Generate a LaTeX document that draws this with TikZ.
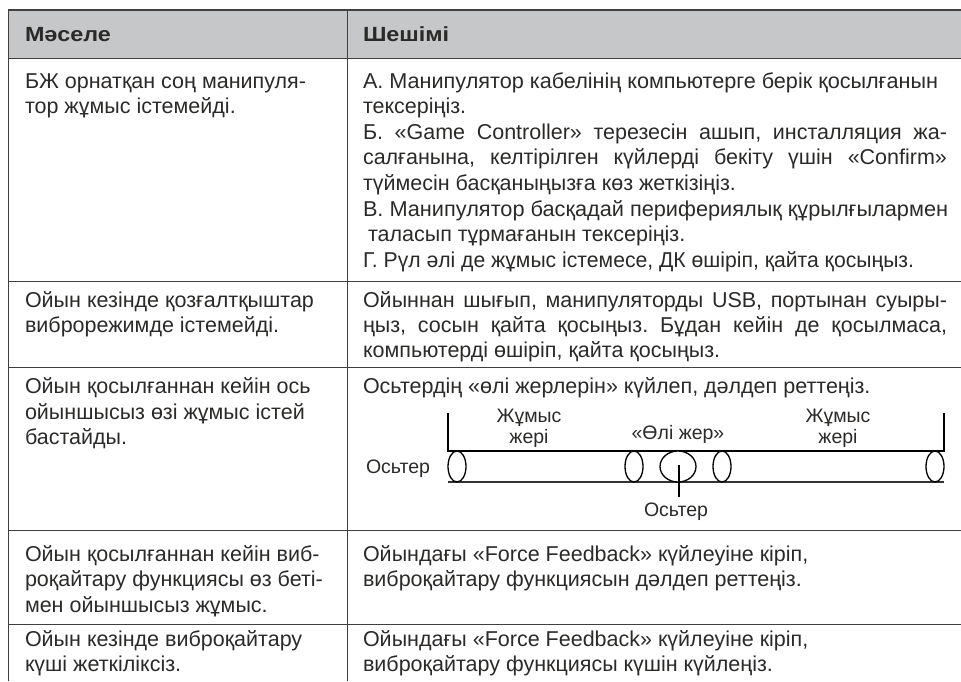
\documentclass[tikz,border=0pt]{standalone}
\usepackage{fontspec}
\usepackage{graphicx}
\setmainfont{Liberation Sans}
\newfontfamily\hdfont[FakeStretch=1.14]{Liberation Sans}
\definecolor{ink}{HTML}{2B2A29}
\definecolor{hdr}{HTML}{C6C7C9}
\frenchspacing
\tikzset{x=1pt,y=-1pt,
 txt/.style={anchor=base west,inner sep=0pt,outer sep=0pt,text=ink,font=\fontsize{21.5}{25}\selectfont},
 head/.style={txt,font=\hdfont\fontsize{20.5}{25}\selectfont\bfseries},
 dia/.style={anchor=base,inner sep=0pt,text=ink,font=\fontsize{19.5}{24}\selectfont},
 rule/.style={draw=ink!90,line width=1pt},
 gap/.style={draw=black,line width=1.3pt,fill=white}}
\newcommand{\J}[1]{\hbox to 584pt{#1}}
\newcommand{\W}[2]{\resizebox{#1pt}{\height}{#2}}
\begin{document}
\begin{tikzpicture}
\useasboundingbox (0,0) rectangle (961,681);
\fill[hdr] (8,10) rectangle (961,58);
\draw[rule,line width=1.5pt] (8,10) -- (961,10);
\draw[rule] (8,58) -- (961,58);
\draw[rule] (8,10) -- (8,681);
\draw[rule] (347,10) -- (347,681);
\foreach \y in {281,367,530,624} \draw[rule] (8,\y) -- (961,\y);
\node[head] (h1) at (25,41) {Мәселе};
\node[head] (h2) at (363,41) {Шешімі};
\node[txt] (l1) at (25,88) {БЖ орнатқан соң манипуля-};
\node[txt] (l2) at (25,113.5) {тор жұмыс істемейді.};
\node[txt] (l3) at (25,307) {Ойын кезінде қозғалтқыштар};
\node[txt] (l4) at (25,332) {виброрежимде істемейді.};
\node[txt] (l5) at (25,393.5) {Ойын қосылғаннан кейін ось};
\node[txt] (l6) at (25,419) {ойыншысыз өзі жұмыс істей};
\node[txt] (l7) at (25,444.5) {бастайды.};
\node[txt] (l8) at (25,561) {Ойын қосылғаннан кейін виб-};
\node[txt] (l9) at (25,586.5) {роқайтару функциясы өз беті-};
\node[txt] (l10) at (25,612) {мен ойыншысыз жұмыс.};
\node[txt] (l11) at (25,646) {Ойын кезінде виброқайтару};
\node[txt] (l12) at (25,671) {күші жеткіліксіз.};
\node[txt] (r1) at (363,88) {\W{575}{А. Манипулятор кабелінің компьютерге берік қосылғанын}};
\node[txt] (r2) at (363,113.5) {тексеріңіз.};
\node[txt] (r3) at (363,139) {\J{Б. «Game Controller» терезесін ашып, инсталляция жа-}};
\node[txt] (r4) at (363,164.5) {\J{салғанына, келтірілген күйлерді бекіту үшін «Confirm»}};
\node[txt] (r5) at (363,190) {түймесін басқаныңызға көз жеткізіңіз.};
\node[txt] (r6) at (363,216) {\W{585}{В. Манипулятор басқадай перифериялық құрылғылармен}};
\node[txt] (r7) at (368,241.5) {таласып тұрмағанын тексеріңіз.};
\node[txt] (r8) at (363,267) {\W{551}{Г. Рүл әлі де жұмыс істемесе, ДК өшіріп, қайта қосыңыз.}};
\node[txt] (r9) at (363,307) {\J{Ойыннан шығып, манипуляторды USB, портынан суыры-}};
\node[txt] (r10) at (363,332) {\J{ңыз, сосын қайта қосыңыз. Бұдан кейін де қосылмаса,}};
\node[txt] (r11) at (363,357) {компьютерді өшіріп, қайта қосыңыз.};
\node[txt] (r12) at (363,393.5) {Осьтердің «өлі жерлерін» күйлеп, дәлдеп реттеңіз.};
\node[txt] (r13) at (363,561) {Ойындағы «Force Feedback» күйлеуіне кіріп,};
\node[txt] (r14) at (363,586.5) {виброқайтару функциясын дәлдеп реттеңіз.};
\node[txt] (r15) at (363,646) {Ойындағы «Force Feedback» күйлеуіне кіріп,};
\node[txt] (r16) at (363,671) {виброқайтару функциясы күшін күйлеңіз.};
% dead-zone diagram
\coordinate (tl) at (448,451); \coordinate (tr) at (944,451);
\coordinate (bl) at (448,482); \coordinate (br) at (944,482);
\coordinate (ta) at (448,413); \coordinate (tb) at (944,413);
\draw[black,line width=1.5pt] (ta) -- (tl) -- (tr) -- (tb);
\draw[black!80,line width=1.2pt] (bl) -- (br);
\foreach \x/\n in {457/a,634/b,722/c,935/d} \draw[gap] (\x,466.5) ellipse (9 and 15.5);
\draw[gap] (678,466.5) ellipse (18 and 15.5);
\coordinate (pa) at (679,465); \coordinate (pb) at (679,497);
\draw[black,line width=1.3pt] (pa) -- (pb);
\node[dia] (d1) at (529,422) {Жұмыс};
\node[dia] (d2) at (529,443) {жері};
\node[dia] (d3) at (838,422) {Жұмыс};
\node[dia] (d4) at (838,443) {жері};
\node[dia] (d5) at (678,439) {«Өлі жер»};
\node[dia] (d6) at (398,473) {Осьтер};
\node[dia] (d7) at (676,516) {Осьтер};
\end{tikzpicture}
\end{document}
